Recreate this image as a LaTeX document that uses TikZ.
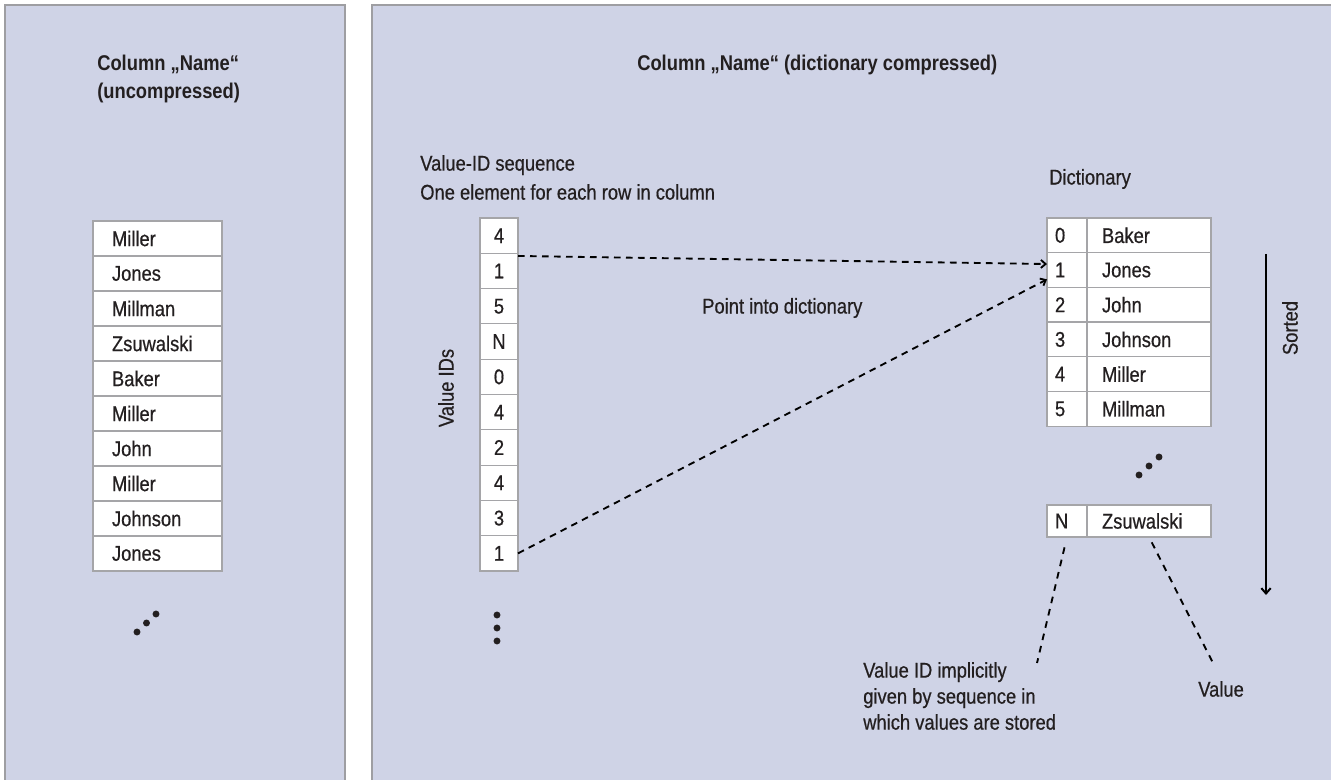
\documentclass[tikz,border=0pt]{standalone}
\usepackage{fontspec}
\setmainfont{Liberation Sans}[FakeStretch = 0.86, UprightFeatures = {FakeBold = 0.6}]
\usetikzlibrary{positioning,arrows.meta}

\definecolor{panelfill}{RGB}{207,211,230}
\definecolor{panelline}{RGB}{158,158,162}
\definecolor{cellline}{RGB}{165,165,168}
\definecolor{ink}{RGB}{35,31,32}

\begin{document}
\begin{tikzpicture}[x = 0.75pt, y = -0.75pt,
                    font = \fontsize{16}{19}\selectfont,
                    text = ink,
                    panel/.style    = {fill = panelfill,
                                       draw = panelline,
                                       line width = 1pt},
                    cell/.style     = {rectangle,
                                       draw = cellline,
                                       fill = white,
                                       line width = 0.9pt,
                                       anchor = north west,
                                       inner ysep = 0pt,
                                       outer sep = 0pt},
                    namecell/.style = {cell,
                                       minimum height = 26.25pt,
                                       text width = 68.25pt,
                                       inner xsep = 14.25pt,
                                       align = left},
                    vidcell/.style  = {cell,
                                       minimum height = 26.5pt,
                                       minimum width = 28.5pt,
                                       inner xsep = 0pt},
                    idcell/.style   = {cell,
                                       minimum height = 26pt,
                                       text width = 18pt,
                                       inner xsep = 6pt,
                                       align = left},
                    dictcell/.style = {cell,
                                       minimum height = 26pt,
                                       text width = 70.5pt,
                                       inner xsep = 11.25pt,
                                       align = left},
                    title/.style    = {font = \fontsize{16}{21}\selectfont\bfseries,
                                       align = left, anchor = west, inner sep = 0pt},
                    label/.style    = {align = left, anchor = west, inner sep = 0pt},
                    pointer/.style  = {dash pattern = on 5pt off 4pt,
                                       line width = 1.4pt,
                                       -{Straight Barb[length = 3.5pt, width = 6pt]}},
                    note/.style     = {dash pattern = on 5pt off 4.5pt,
                                       line width = 1.4pt},
                    sortline/.style = {line width = 1.5pt,
                                       -{Straight Barb[length = 4pt, width = 7pt]}}]

\useasboundingbox (0,0) rectangle (1331,780);

% background panels
\draw[panel] (5,5) rectangle (345,790);
\draw[panel] (372,5) rectangle (1345,790);

% uncompressed column
\node[title] (lefttitle) at (97,79) {Column „Name“\\(uncompressed)};
\foreach \name [count=\i] in {Miller,Jones,Millman,Zsuwalski,Baker,Miller,John,Miller,Johnson,Jones}
  \node[namecell] (n\i) at (93,{221+35*(\i-1)}) {\name};
\foreach \p in {(137,632),(146.5,623),(156,614)}
  \fill[ink] \p circle[radius = 2.6pt];

% compressed column
\node[title] (righttitle) at (637,65) {Column „Name“ (dictionary compressed)};
\node[label, font = \fontsize{16}{21.75}\selectfont] (seqlbl) at (420,177.5)
     {Value-ID sequence\\One element for each row in column};
\foreach \vid [count=\i] in {4,1,5,N,0,4,2,4,3,1}
  \node[vidcell] (v\i) at (480,{218+35.3*(\i-1)}) {\vid};
\node[rotate = 90] (vidlbl) at (446,388) {Value IDs};
\foreach \p in {(497,615),(497,628),(497,641)}
  \fill[ink] \p circle[radius = 2.6pt];

% dictionary
\node[label] (dictlbl) at (1049,179) {Dictionary};
\foreach \id/\name [count=\i] in {0/Baker,1/Jones,2/John,3/Johnson,4/Miller,5/Millman}
{
  \node[idcell] (k\i) at (1047,{218+34.7*(\i-1)}) {\id};
  \node[dictcell] (d\i) at (k\i.north east) {\name};
}
\foreach \p in {(1139,475),(1149,466),(1159,457)}
  \fill[ink] \p circle[radius = 2.6pt];
\node[idcell, minimum height = 24pt] (kN) at (1047,505) {N};
\node[dictcell, minimum height = 24pt] (dN) at (kN.north east) {Zsuwalski};

% pointers into the dictionary
\node[label] (pointlbl) at (702,308) {Point into dictionary};
\path[pointer] ([yshift = -2pt]v2.north east) edge ([yshift = 4.5pt]k2.west);
\path[pointer] (v10.east) edge ([yshift = -7pt]k2.west);

% sorted
\coordinate (sorttop) at (1266,254);
\coordinate (sortbot) at (1266,595);
\draw[sortline] (sorttop) -- (sortbot);
\node[rotate = 90] (sortlbl) at (1290,328) {Sorted};

% explanations
\node[label, font = \fontsize{16}{19.5}\selectfont] (implicit) at (863,696)
     {Value ID implicitly\\given by sequence in\\which values are stored};
\node[label] (valuelbl) at (1198,689) {Value};
\coordinate (idend) at (1037,663);
\coordinate (valend) at (1213,663);
\draw[note, shorten < = 8pt] (kN.south) -- (idend);
\draw[note, shorten < = 4.5pt] (dN.south) -- (valend);

\end{tikzpicture}
\end{document}
